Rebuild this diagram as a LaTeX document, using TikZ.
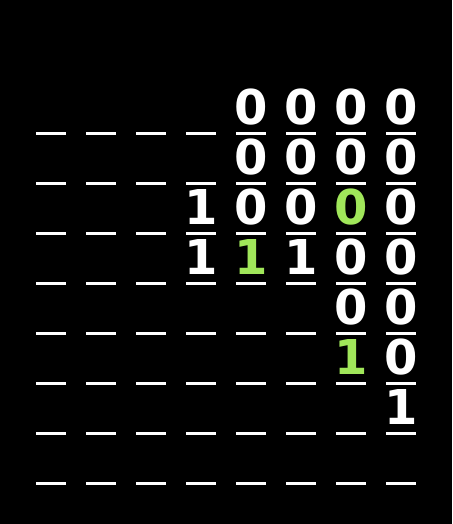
\documentclass[tikz,border=0pt]{standalone}
\usepackage{fontspec}
\setmainfont{DejaVu Sans}
\usepackage{xcolor}
\definecolor{hlgreen}{RGB}{160,230,90}

\begin{document}
\begin{tikzpicture}[x=1pt,y=-1pt,
  slot/.style={white,line width=3.5pt},
  bit/.style={anchor=base,inner sep=0pt,font=\fontsize{48}{52}\selectfont\bfseries}]
\fill[black] (0,0) rectangle (452,524);
\foreach \r in {0,...,7}
  \foreach \c in {0,...,7}
    \draw[slot] (\c*50+36,\r*50+133.5) -- (\c*50+66,\r*50+133.5);
\foreach \c/\r/\d/\k in {4/0/0/white,5/0/0/white,6/0/0/white,7/0/0/white,
    4/1/0/white,5/1/0/white,6/1/0/white,7/1/0/white,
    3/2/1/white,4/2/0/white,5/2/0/white,6/2/0/hlgreen,7/2/0/white,
    3/3/1/white,4/3/1/hlgreen,5/3/1/white,6/3/0/white,7/3/0/white,
    6/4/0/white,7/4/0/white,
    6/5/1/hlgreen,7/5/0/white,
    7/6/1/white}
  \node[bit,text=\k] (d\r\c) at (\c*50+51,\r*50+124.5) {\d};
\end{tikzpicture}
\end{document}
